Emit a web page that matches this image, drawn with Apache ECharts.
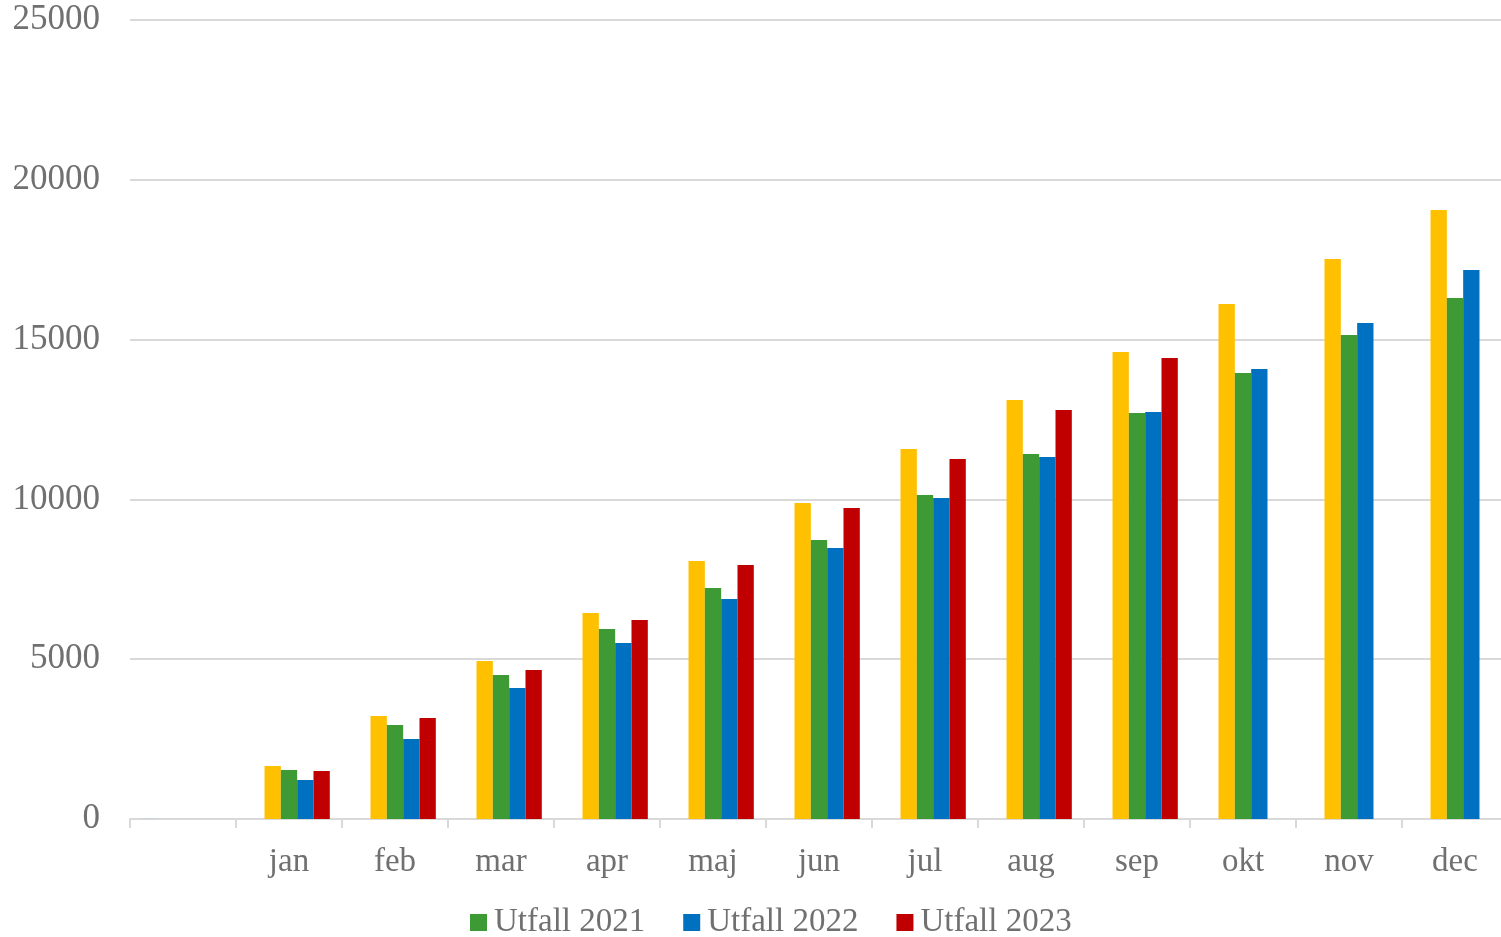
<!DOCTYPE html>
<html>
<head>
<meta charset="utf-8">
<script src="https://cdn.jsdelivr.net/npm/echarts@6/dist/echarts.min.js"></script>
<style>
html,body{margin:0;padding:0;background:#fff;}
#chart{width:1501px;height:937px;}
</style>
</head>
<body>
<div id="chart"></div>
<script>
const categories = ['', 'jan', 'feb', 'mar', 'apr', 'maj', 'jun', 'jul', 'aug', 'sep', 'okt', 'nov', 'dec'];
const yTicks = [0, 5000, 10000, 15000, 20000, 25000];
const hiddenSeries = [30, null, null, null, null, null, null, null, null, null, null, null, null];
const budget = [null, 1658, 3223, 4944, 6446, 8073, 9887, 11577, 13110, 14612, 16114, 17522, 19055];
const utfall2021 = [null, 1533, 2941, 4506, 5945, 7228, 8730, 10138, 11421, 12703, 13955, 15144, 16302];
const utfall2022 = [null, 1220, 2503, 4099, 5507, 6884, 8479, 10044, 11327, 12735, 14080, 15519, 17178];
const utfall2023 = [null, 1502, 3160, 4662, 6227, 7947, 9731, 11264, 12797, 14424, null, null, null];

const font = 'Liberation Serif';
const textColor = '#707070';
const chart = echarts.init(document.getElementById('chart'));
const barBase = {type: 'bar', barGap: '0%', barCategoryGap: '23%'};
chart.setOption({
  animation: false,
  grid: {left: 130, width: 1378, top: 20, bottom: 118, containLabel: false, outerBoundsMode: 'none'},
  legend: {
    bottom: -7, left: 465,
    data: ['Utfall 2021', 'Utfall 2022', 'Utfall 2023'],
    itemWidth: 17, itemHeight: 17, itemGap: 38, icon: 'rect',
    textStyle: {fontFamily: font, fontSize: 33, color: textColor, padding: [0, 0, 0, 2]}
  },
  xAxis: {
    type: 'category', data: categories, boundaryGap: true,
    axisLine: {lineStyle: {color: '#d9d9d9', width: 2}},
    axisTick: {show: true, length: 9, lineStyle: {color: '#d9d9d9', width: 2}},
    axisLabel: {fontFamily: font, fontSize: 33, color: textColor, margin: 27}
  },
  yAxis: {
    type: 'value', min: yTicks[0], max: yTicks[yTicks.length - 1], interval: 5000,
    axisLine: {show: false}, axisTick: {show: false},
    splitLine: {lineStyle: {color: '#d9d9d9', width: 2}},
    axisLabel: {fontFamily: font, fontSize: 35, color: textColor, margin: 30,
      formatter: function (v) { return String(v); }}
  },
  series: [
    Object.assign({name: 'Dold', data: hiddenSeries, itemStyle: {color: '#c9d3dc'}}, barBase),
    Object.assign({name: 'Budget', data: budget, itemStyle: {color: '#FFC000'}}, barBase),
    Object.assign({name: 'Utfall 2021', data: utfall2021, itemStyle: {color: '#3D9A35'}}, barBase),
    Object.assign({name: 'Utfall 2022', data: utfall2022, itemStyle: {color: '#0070C0'}}, barBase),
    Object.assign({name: 'Utfall 2023', data: utfall2023, itemStyle: {color: '#C00000'}}, barBase)
  ]
});
</script>
</body>
</html>
